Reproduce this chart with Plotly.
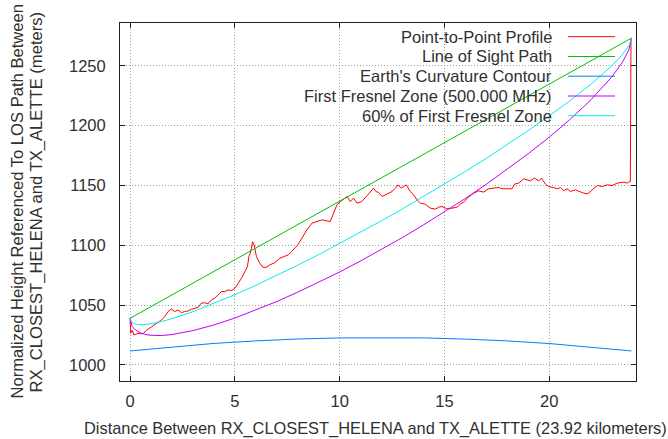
import plotly.graph_objects as go

# ---------------- data ----------------
profile_x = [0.0, 0.03, 0.1, 0.19, 0.38, 0.62, 0.78, 1.02, 1.18, 1.34, 1.5, 1.66, 1.81, 1.97,
             2.13, 2.29, 2.45, 2.61, 2.77, 2.93, 3.09, 3.25, 3.4, 3.57, 3.72, 3.88, 4.04, 4.2,
             4.36, 4.52, 4.68, 4.84, 5.0, 5.16, 5.32, 5.48, 5.6, 5.67, 5.76, 5.84, 5.92, 6.03,
             6.19, 6.35, 6.51, 6.67, 6.91, 7.15, 7.39, 7.55, 7.7, 7.86, 7.99, 8.2, 8.44, 8.68,
             8.92, 9.15, 9.39, 9.55, 9.71, 9.87, 10.03, 10.23, 10.35, 10.51, 10.66, 10.83, 11.06,
             11.3, 11.46, 11.62, 11.73, 11.86, 12.02, 12.18, 12.34, 12.5, 12.66, 12.78, 12.94,
             13.05, 13.18, 13.37, 13.53, 13.69, 13.85, 14.09, 14.33, 14.57, 14.72, 14.88, 15.12,
             15.36, 15.6, 15.76, 15.96, 16.08, 16.39, 16.63, 16.87, 17.11, 17.35, 17.59, 17.75,
             17.99, 18.23, 18.34, 18.54, 18.78, 18.94, 19.1, 19.29, 19.5, 19.63, 19.82, 19.98,
             20.22, 20.41, 20.53, 20.69, 20.85, 21.01, 21.25, 21.46, 21.65, 21.84, 22.05, 22.29,
             22.53, 22.77, 23.0, 23.24, 23.56, 23.72, 23.84, 23.87, 23.9]
profile_y = [1039, 1026.5, 1029, 1025, 1026.5, 1026, 1029, 1032, 1034.3, 1036.2, 1037.6, 1040.4,
             1044.6, 1046.8, 1044.6, 1046, 1043.7, 1044.6, 1045.2, 1046.5, 1047.4, 1048.2, 1051.6,
             1052, 1051, 1054.3, 1055.8, 1058.5, 1061.3, 1061.3, 1062.7, 1062.1, 1064, 1068.3,
             1072.5, 1078, 1082.2, 1090.5, 1094.7, 1103, 1100.3, 1090.5, 1085, 1081.4, 1081.7,
             1083.6, 1085.5, 1089.2, 1090.5, 1092, 1094.7, 1097.5, 1100, 1106, 1112.9, 1118.5,
             1119.8, 1121.2, 1120.4, 1119.8, 1126.8, 1133.8, 1136.5, 1139.4, 1140.7, 1136.5,
             1139.4, 1135.2, 1136.5, 1141.3, 1144.9, 1147.7, 1144.9, 1144.1, 1140.7, 1142.1,
             1144.1, 1144.9, 1147.7, 1150.5, 1147.7, 1149.1, 1150.5, 1144.9, 1142.1, 1138,
             1135.2, 1134.3, 1131, 1130.2, 1131.8, 1132.4, 1130.4, 1131, 1131.8, 1134.5, 1136.5,
             1139.4, 1143.5, 1145.5, 1144.4, 1147.2, 1147.7, 1148.3, 1147.2, 1147.2, 1147.2,
             1151.1, 1151.9, 1155.5, 1154.7, 1153.8, 1156.1, 1153.8, 1156.1, 1151.1, 1149.1,
             1148.3, 1147.2, 1148.3, 1145.5, 1147.2, 1144.9, 1146.3, 1144.9, 1143.5, 1143,
             1146.3, 1149.9, 1149.1, 1150.5, 1149.9, 1151.9, 1152.8, 1151.9, 1153.3, 1153.3, 1273]

los_x = [0.0, 23.92]
los_y = [1039.0, 1273.0]

earth_x = [0, 2, 4, 6, 8, 10, 12, 14, 16, 18, 20, 22, 23.92]
earth_y = [1011.7, 1015.1, 1018.0, 1020.1, 1021.7, 1022.6, 1022.9, 1022.6, 1021.6, 1020.1,
           1017.9, 1015.0, 1011.7]

zone_x = [0, 0.1, 0.25, 0.5, 0.75, 1, 1.5, 2, 3, 4, 5, 6, 7, 8, 9, 10, 11, 12, 13, 14, 15,
          16, 17, 18, 19, 20, 21, 22, 23, 23.5, 23.8, 23.92]
fresnel_y = [1039, 1032.2, 1029.3, 1026.8, 1025.4, 1024.8, 1024.6, 1025.4, 1028.7, 1033.4,
             1039.2, 1045.8, 1053.0, 1060.8, 1069.0, 1077.7, 1086.9, 1096.5, 1106.5, 1117.0,
             1127.8, 1139.1, 1151.0, 1163.4, 1176.5, 1190.3, 1205.2, 1221.7, 1241.0, 1253.2,
             1263.3, 1273]
fresnel60_y = [1039, 1035.3, 1034.1, 1033.6, 1033.8, 1034.4, 1036.3, 1038.7, 1044.5, 1051.3,
               1058.7, 1066.5, 1074.8, 1083.4, 1092.2, 1101.4, 1110.8, 1120.5, 1130.4, 1140.6,
               1151.0, 1161.7, 1172.7, 1184.1, 1195.9, 1208.1, 1220.9, 1234.7, 1250.2, 1259.5,
               1266.7, 1273]

legend_labels = ["Point-to-Point Profile", "Line of Sight Path", "Earth's Curvature Contour",
                 "First Fresnel Zone (500.000 MHz)", "60% of First Fresnel Zone"]
colors = ["#ff0000", "#00c000", "#0080ff", "#c000ff", "#00eeee"]

x_ticks = [0, 5, 10, 15, 20]
y_ticks = [1000, 1050, 1100, 1150, 1200, 1250]

x_title = "Distance Between RX_CLOSEST_HELENA and TX_ALETTE (23.92 kilometers)"
y_title_lines = ["Normalized Height Referenced To LOS Path Between",
                 "RX_CLOSEST_HELENA and TX_ALETTE (meters)"]

# ---------------- figure ----------------
FONT = "Liberation Sans, Arial, sans-serif"
TXT = "#303030"
FS = 16.5

fig = go.Figure()
series = [(profile_x, profile_y), (los_x, los_y), (earth_x, earth_y),
          (zone_x, fresnel_y), (zone_x, fresnel60_y)]
for (xs, ys), name, c in zip(series, legend_labels, colors):
    fig.add_trace(go.Scatter(x=xs, y=ys, mode="lines", name=name,
                             line=dict(color=c, width=1), showlegend=False,
                             hoverinfo="skip"))

W, H = 668, 439
ML, MR, MT, MB = 120, 32, 23, 58
pw, ph = W - ML - MR, H - MT - MB


def px_to_paper_x(px):
    return (px - ML) / pw


def px_to_paper_y(py):
    return 1 - (py - MT) / ph


shapes = []
annotations = []
# opaque key background (covers grid, under the data)
shapes.append(dict(type="rect", xref="paper", yref="paper",
                   x0=px_to_paper_x(226), x1=1, y0=px_to_paper_y(125), y1=1,
                   fillcolor="white", line=dict(width=0), layer="between"))
row_y = [36.7, 56.5, 76.2, 96, 115.7]
for lab, c, ry in zip(legend_labels, colors, row_y):
    annotations.append(dict(text=lab, xref="paper", yref="paper",
                            x=px_to_paper_x(554), y=px_to_paper_y(ry),
                            xanchor="right", yanchor="middle", showarrow=False,
                            font=dict(family=FONT, size=FS, color=TXT)))
    shapes.append(dict(type="line", xref="paper", yref="paper",
                       x0=px_to_paper_x(568), x1=px_to_paper_x(615),
                       y0=px_to_paper_y(ry), y1=px_to_paper_y(ry),
                       line=dict(color=c, width=1), layer="above"))

# axis titles
annotations.append(dict(text=x_title, xref="paper", yref="paper",
                        x=px_to_paper_x(375), y=px_to_paper_y(428), xanchor="center",
                        yanchor="middle", showarrow=False,
                        font=dict(family=FONT, size=16.4, color=TXT)))
for line, cx in zip(y_title_lines, [16.5, 35.5]):
    annotations.append(dict(text=line, xref="paper", yref="paper",
                            x=px_to_paper_x(cx), y=px_to_paper_y(202),
                            xanchor="center", yanchor="middle", textangle=-90,
                            showarrow=False, font=dict(family=FONT, size=16.6, color=TXT)))

axis_common = dict(showline=True, linecolor="#202020", linewidth=1, mirror="ticks",
                   ticks="inside", ticklen=5, tickcolor="#202020", tickwidth=1,
                   showgrid=True, gridcolor="#a0a0a0", griddash="1px,2px", gridwidth=1,
                   zeroline=False, tickfont=dict(family=FONT, size=FS, color=TXT))

fig.update_layout(
    width=W, height=H,
    margin=dict(l=ML, r=MR, t=MT, b=MB, pad=0),
    paper_bgcolor="white", plot_bgcolor="white",
    showlegend=False,
    xaxis=dict(range=[-0.48, 24.14], tickvals=x_ticks, ticktext=[str(v) for v in x_ticks],
               ticklabelstandoff=5, **axis_common),
    yaxis=dict(range=[986.6, 1285.7], tickvals=y_ticks, ticktext=[str(v) for v in y_ticks],
               ticklabelstandoff=10, **axis_common),
    shapes=shapes, annotations=annotations,
)

fig.write_html("out.html", config={"displayModeBar": False})
